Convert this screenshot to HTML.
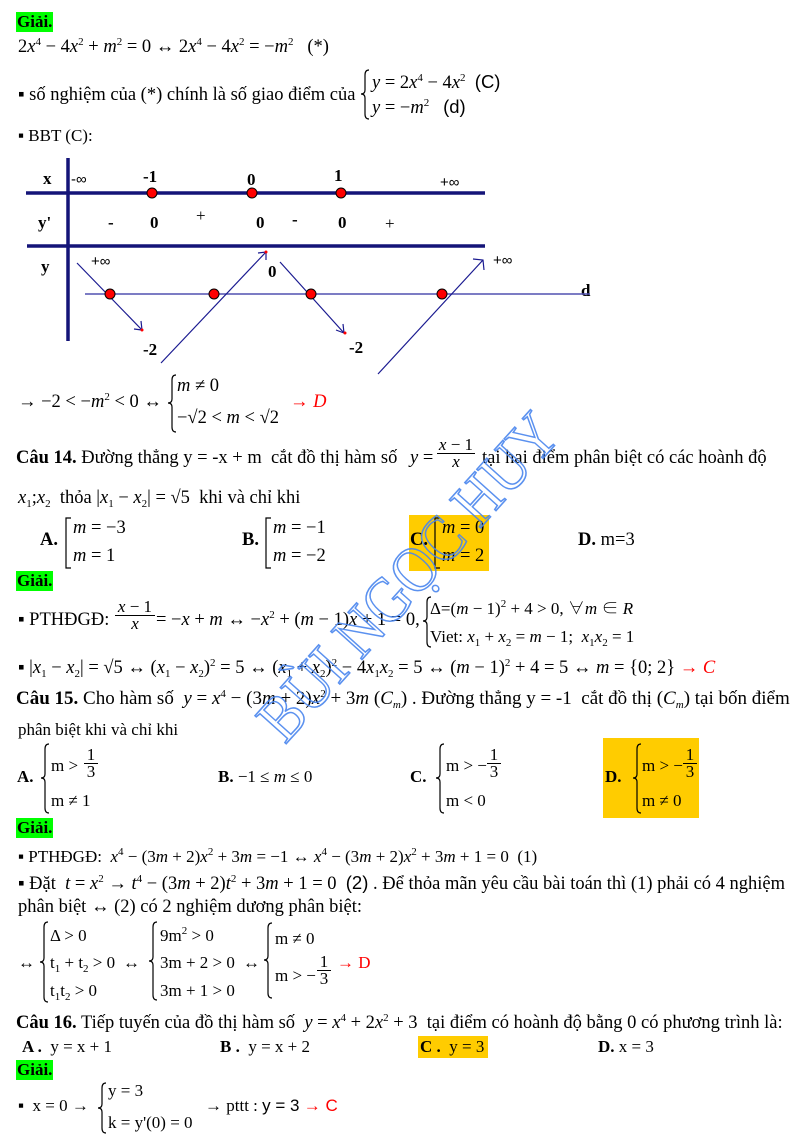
<!DOCTYPE html>
<html><head><meta charset="utf-8">
<style>
html,body{margin:0;padding:0;background:#fff;}
body{width:800px;height:1143px;position:relative;overflow:hidden;font-family:"Liberation Serif","Noto Serif CJK SC",serif;font-size:18.5px;color:#000;}
.t{position:absolute;white-space:nowrap;line-height:20px;}
.k{font-size:17px;}
.s{font-family:"Liberation Sans",sans-serif;}
i{font-style:italic;}
b{font-weight:bold;}
sup{font-size:11px;vertical-align:7px;line-height:0;}
sub{font-size:11px;vertical-align:-4px;line-height:0;}
.g{position:absolute;background:#00ff00;font-weight:bold;line-height:20px;padding:0 1px;font-size:17px;}
.y{position:absolute;background:#ffcc00;}
.r{color:#ff0000;}
.fr{position:absolute;text-align:center;line-height:16px;white-space:nowrap;font-size:17px;}
.fr .n{border-bottom:1px solid #000;padding:0 1px;}
</style></head><body>

<div class="g" style="left:16px;top:12px;">Giải.</div>
<div class="t" style="left:18px;top:37px;">2<i>x</i><sup>4</sup> − 4<i>x</i><sup>2</sup> + <i>m</i><sup>2</sup> = 0 ↔ 2<i>x</i><sup>4</sup> − 4<i>x</i><sup>2</sup> = −<i>m</i><sup>2</sup> &nbsp; (*)</div>
<div class="t" style="left:18px;top:85px;">▪ số nghiệm của (*) chính là số giao điểm của</div>
<div class="t" style="left:372px;top:72px;"><i>y</i> = 2<i>x</i><sup>4</sup> − 4<i>x</i><sup>2</sup> &nbsp;<span class="s">(C)</span></div>
<div class="t" style="left:372px;top:97px;"><i>y</i> = −<i>m</i><sup>2</sup> &nbsp; <span class="s">(d)</span></div>
<div class="t k" style="left:18px;top:126px;">▪ BBT (C):</div>

<!-- table labels -->
<div class="t k" style="left:43px;top:169px;"><b>x</b></div>
<div class="t s" style="left:71px;top:170px;font-size:15px;">-∞</div>
<div class="t k" style="left:143px;top:167px;"><b>-1</b></div>
<div class="t k" style="left:247px;top:170px;"><b>0</b></div>
<div class="t k" style="left:334px;top:166px;"><b>1</b></div>
<div class="t s" style="left:440px;top:173px;font-size:15px;">+∞</div>
<div class="t k" style="left:38px;top:213px;"><b>y'</b></div>
<div class="t k" style="left:108px;top:213px;"><b>-</b></div>
<div class="t k" style="left:150px;top:213px;"><b>0</b></div>
<div class="t k" style="left:196px;top:206px;">+</div>
<div class="t k" style="left:256px;top:213px;"><b>0</b></div>
<div class="t k" style="left:292px;top:210px;"><b>-</b></div>
<div class="t k" style="left:338px;top:213px;"><b>0</b></div>
<div class="t k" style="left:385px;top:214px;">+</div>
<div class="t k" style="left:41px;top:257px;"><b>y</b></div>
<div class="t s" style="left:91px;top:252px;font-size:15px;">+∞</div>
<div class="t k" style="left:268px;top:262px;"><b>0</b></div>
<div class="t s" style="left:493px;top:251px;font-size:15px;">+∞</div>
<div class="t k" style="left:581px;top:281px;"><b>d</b></div>
<div class="t k" style="left:143px;top:340px;"><b>-2</b></div>
<div class="t k" style="left:349px;top:338px;"><b>-2</b></div>

<!-- line after table -->
<div class="t" style="left:18px;top:392px;">→ −2 &lt; −<i>m</i><sup>2</sup> &lt; 0 ↔</div>
<div class="t" style="left:177px;top:376px;"><i>m</i> ≠ 0</div>
<div class="t" style="left:177px;top:408px;">−√2 &lt; <i>m</i> &lt; √2</div>
<div class="t r" style="left:290px;top:392px;">→ <i>D</i></div>

<!-- Câu 14 -->
<div class="t" style="left:16px;top:448px;"><b>Câu 14.</b> Đường thẳng y = -x + m &nbsp;cắt đồ thị hàm số</div>
<div class="t" style="left:410px;top:448px;"><i>y</i> =</div>
<div class="fr" style="left:437px;top:437px;width:38px;"><div class="n"><i>x</i> − 1</div><div><i>x</i></div></div>
<div class="t" style="left:482px;top:448px;">tại hai điểm phân biệt có các hoành độ</div>
<div class="t" style="left:18px;top:488px;"><i>x</i><sub>1</sub>;<i>x</i><sub>2</sub> &nbsp;thỏa |<i>x</i><sub>1</sub> − <i>x</i><sub>2</sub>| = √5 &nbsp;khi và chỉ khi</div>

<div class="t" style="left:40px;top:530px;"><b>A.</b></div>
<div class="t" style="left:73px;top:518px;"><i>m</i> = −3</div>
<div class="t" style="left:73px;top:546px;"><i>m</i> = 1</div>
<div class="t" style="left:242px;top:530px;"><b>B.</b></div>
<div class="t" style="left:273px;top:518px;"><i>m</i> = −1</div>
<div class="t" style="left:273px;top:546px;"><i>m</i> = −2</div>
<div class="y" style="left:409px;top:515px;width:80px;height:56px;"></div>
<div class="t" style="left:410px;top:530px;"><b>C.</b></div>
<div class="t" style="left:442px;top:518px;"><i>m</i> = 0</div>
<div class="t" style="left:442px;top:546px;"><i>m</i> = 2</div>
<div class="t" style="left:578px;top:530px;"><b>D.</b> m=3</div>

<div class="g" style="left:16px;top:571px;">Giải.</div>
<div class="t" style="left:18px;top:610px;">▪ PTHĐGĐ:</div>
<div class="fr" style="left:115px;top:599px;width:40px;"><div class="n"><i>x</i> − 1</div><div><i>x</i></div></div>
<div class="t" style="left:156px;top:610px;">= −<i>x</i> + <i>m</i> ↔ −<i>x</i><sup>2</sup> + (<i>m</i> − 1)<i>x</i> + 1 = 0,</div>
<div class="t k" style="left:430px;top:599px;">Δ=(<i>m</i> − 1)<sup>2</sup> + 4 &gt; 0, ∀<i>m</i> ∈ <i>R</i></div>
<div class="t k" style="left:430px;top:627px;">Viet: <i>x</i><sub>1</sub> + <i>x</i><sub>2</sub> = <i>m</i> − 1; &nbsp;<i>x</i><sub>1</sub><i>x</i><sub>2</sub> = 1</div>
<div class="t" style="left:18px;top:658px;">▪ |<i>x</i><sub>1</sub> − <i>x</i><sub>2</sub>| = √5 ↔ (<i>x</i><sub>1</sub> − <i>x</i><sub>2</sub>)<sup>2</sup> = 5 ↔ (<i>x</i><sub>1</sub> + <i>x</i><sub>2</sub>)<sup>2</sup> − 4<i>x</i><sub>1</sub><i>x</i><sub>2</sub> = 5 ↔ (<i>m</i> − 1)<sup>2</sup> + 4 = 5 ↔ <i>m</i> = {0; 2} <span class="r">→ <i>C</i></span></div>

<!-- Câu 15 -->
<div class="t" style="left:16px;top:689px;font-size:19px;"><b>Câu 15.</b> Cho hàm số &nbsp;<i>y</i> = <i>x</i><sup>4</sup> − (3<i>m</i> + 2)<i>x</i><sup>2</sup> + 3<i>m</i> (<i>C<sub>m</sub></i>) . Đường thẳng y = -1 &nbsp;cắt đồ thị (<i>C<sub>m</sub></i>) tại bốn điểm</div>
<div class="t k" style="left:18px;top:720px;">phân biệt khi và chỉ khi</div>

<div class="t k" style="left:17px;top:767px;"><b>A.</b></div>
<div class="t k" style="left:51px;top:756px;">m &gt;</div>
<div class="fr" style="left:84px;top:747px;width:14px;"><div class="n">1</div><div>3</div></div>
<div class="t k" style="left:51px;top:791px;">m ≠ 1</div>
<div class="t k" style="left:218px;top:767px;"><b>B.</b> −1 ≤ <i>m</i> ≤ 0</div>
<div class="t k" style="left:410px;top:767px;"><b>C.</b></div>
<div class="t k" style="left:446px;top:756px;">m &gt; −</div>
<div class="fr" style="left:487px;top:747px;width:14px;"><div class="n">1</div><div>3</div></div>
<div class="t k" style="left:446px;top:791px;">m &lt; 0</div>
<div class="y" style="left:603px;top:738px;width:96px;height:80px;"></div>
<div class="t k" style="left:605px;top:767px;"><b>D.</b></div>
<div class="t k" style="left:642px;top:756px;">m &gt; −</div>
<div class="fr" style="left:683px;top:747px;width:14px;"><div class="n">1</div><div>3</div></div>
<div class="t k" style="left:642px;top:791px;">m ≠ 0</div>

<div class="g" style="left:16px;top:818px;">Giải.</div>
<div class="t k" style="left:18px;top:847px;">▪ PTHĐGĐ: &nbsp;<i>x</i><sup>4</sup> − (3<i>m</i> + 2)<i>x</i><sup>2</sup> + 3<i>m</i> = −1 ↔ <i>x</i><sup>4</sup> − (3<i>m</i> + 2)<i>x</i><sup>2</sup> + 3<i>m</i> + 1 = 0 &nbsp;(1)</div>
<div class="t" style="left:18px;top:873px;">▪ Đặt &nbsp;<i>t</i> = <i>x</i><sup>2</sup> → <i>t</i><sup>4</sup> − (3<i>m</i> + 2)<i>t</i><sup>2</sup> + 3<i>m</i> + 1 = 0 &nbsp;<span class="s">(2)</span> . Để thỏa mãn yêu cầu bài toán thì (1) phải có 4 nghiệm</div>
<div class="t" style="left:18px;top:897px;">phân biệt ↔ (2) có 2 nghiệm dương phân biệt:</div>

<div class="t k" style="left:18px;top:953px;">↔</div>
<div class="t k" style="left:50px;top:926px;">Δ &gt; 0</div>
<div class="t k" style="left:50px;top:953px;">t<sub>1</sub> + t<sub>2</sub> &gt; 0</div>
<div class="t k" style="left:50px;top:981px;">t<sub>1</sub>t<sub>2</sub> &gt; 0</div>
<div class="t k" style="left:123px;top:953px;">↔</div>
<div class="t k" style="left:160px;top:926px;">9m<sup>2</sup> &gt; 0</div>
<div class="t k" style="left:160px;top:953px;">3m + 2 &gt; 0</div>
<div class="t k" style="left:160px;top:981px;">3m + 1 &gt; 0</div>
<div class="t k" style="left:243px;top:953px;">↔</div>
<div class="t k" style="left:275px;top:929px;">m ≠ 0</div>
<div class="t k" style="left:275px;top:966px;">m &gt; −</div>
<div class="fr" style="left:317px;top:954px;width:14px;"><div class="n">1</div><div>3</div></div>
<div class="t k r" style="left:337px;top:953px;">→ D</div>

<!-- Câu 16 -->
<div class="t" style="left:16px;top:1013px;"><b>Câu 16.</b> Tiếp tuyến của đồ thị hàm số &nbsp;<i>y</i> = <i>x</i><sup>4</sup> + 2<i>x</i><sup>2</sup> + 3 &nbsp;tại điểm có hoành độ bằng 0 có phương trình là:</div>
<div class="t k" style="left:22px;top:1037px;"><b>A .</b> &nbsp;y = x + 1</div>
<div class="t k" style="left:220px;top:1037px;"><b>B .</b> &nbsp;y = x + 2</div>
<div class="y" style="left:418px;top:1036px;width:70px;height:22px;"></div>
<div class="t k" style="left:420px;top:1037px;"><b>C .</b> &nbsp;y = 3</div>
<div class="t k" style="left:598px;top:1037px;"><b>D.</b> x = 3</div>
<div class="g" style="left:16px;top:1060px;">Giải.</div>
<div class="t k" style="left:18px;top:1096px;">▪ &nbsp;x = 0 →</div>
<div class="t k" style="left:108px;top:1081px;">y = 3</div>
<div class="t k" style="left:108px;top:1113px;">k = y'(0) = 0</div>
<div class="t k" style="left:205px;top:1096px;">→ pttt : <span class="s">y = 3</span> <span class="r s">→ C</span></div>

<svg width="800" height="1143" style="position:absolute;left:0;top:0;" xmlns="http://www.w3.org/2000/svg">
 <g fill="none" stroke="#000" stroke-width="1.2">
  <path d="M369 70 Q365 70 365 75 L365 90 Q365 94 361 94 Q365 94 365 98 L365 114 Q365 119 369 119"/>
  <path d="M176 375 Q172 375 172 380 L172 399 Q172 403 168 403 Q172 403 172 407 L172 427 Q172 432 176 432"/>
  <path d="M431 597 Q427 597 427 602 L427 617 Q427 621 423 621 Q427 621 427 625 L427 642 Q427 647 431 647"/>
  <path d="M49 744 Q45 744 45 749 L45 774 Q45 778 41 778 Q45 778 45 782 L45 808 Q45 813 49 813"/>
  <path d="M444 744 Q440 744 440 749 L440 774 Q440 778 436 778 Q440 778 440 782 L440 808 Q440 813 444 813"/>
  <path d="M641 744 Q637 744 637 749 L637 774 Q637 778 633 778 Q637 778 637 782 L637 808 Q637 813 641 813"/>
  <path d="M48 922 Q44 922 44 927 L44 958 Q44 962 40 962 Q44 962 44 966 L44 997 Q44 1002 48 1002"/>
  <path d="M157 922 Q153 922 153 927 L153 957 Q153 961 149 961 Q153 961 153 965 L153 995 Q153 1000 157 1000"/>
  <path d="M272 923 Q268 923 268 928 L268 956 Q268 960 264 960 Q268 960 268 964 L268 993 Q268 998 272 998"/>
  <path d="M106 1083 Q102 1083 102 1088 L102 1104 Q102 1108 98 1108 Q102 1108 102 1112 L102 1128 Q102 1133 106 1133"/>
  <path d="M71 518 L66 518 L66 568 L71 568"/>
  <path d="M271 518 L266 518 L266 568 L271 568"/>
  <path d="M440 518 L435 518 L435 568 L440 568"/>
 </g>
 <g stroke="#141478" stroke-width="3.5">
  <line x1="68" y1="158" x2="68" y2="341"/>
  <line x1="26" y1="193" x2="485" y2="193"/>
  <line x1="27" y1="246" x2="485" y2="246"/>
 </g>
 <line x1="85" y1="294" x2="590" y2="294" stroke="#5050b0" stroke-width="1.5"/>
 <g stroke="#1a1a90" stroke-width="1.2" fill="none">
  <line x1="77" y1="263" x2="142" y2="330"/>
  <path d="M134 329 L142 330 L141 321"/>
  <line x1="161" y1="363" x2="266" y2="252"/>
  <path d="M258 253 L266 252 L266 260"/>
  <line x1="280" y1="262" x2="344" y2="333"/>
  <path d="M336 330 L344 333 L343 324"/>
  <line x1="378" y1="374" x2="483" y2="260"/>
  <path d="M473 259 L483 260 L484 270"/>
 </g>
 <g fill="#ff0000" stroke="#000" stroke-width="1">
  <circle cx="152" cy="193" r="5"/><circle cx="252" cy="193" r="5"/><circle cx="341" cy="193" r="5"/>
  <circle cx="110" cy="294" r="5"/><circle cx="214" cy="294" r="5"/><circle cx="311" cy="294" r="5"/><circle cx="442" cy="294" r="5"/>
 </g>
 <g fill="#ff0000"><circle cx="142" cy="330" r="1.5"/><circle cx="266" cy="252" r="1.5"/><circle cx="345" cy="333" r="1.5"/></g>
 <text x="0" y="0" transform="translate(285,745) rotate(-48)" font-family="Liberation Serif, serif" font-size="64" fill="none" stroke="#4a86ee" stroke-width="1.6" textLength="415" lengthAdjust="spacingAndGlyphs" opacity="0.9">BÙI NGỌC HUY</text>
</svg>
</body></html>
